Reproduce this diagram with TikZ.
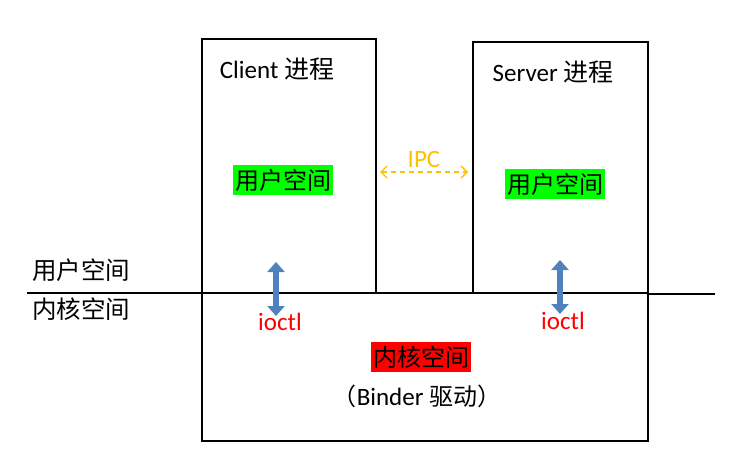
\documentclass[tikz,border=0pt]{standalone}
\usepackage{fontspec}
\setmainfont{Carlito}
\newfontfamily\cjk{Noto Sans CJK SC}
\usetikzlibrary{arrows.meta}
\definecolor{ipcorange}{RGB}{255,192,0}
\definecolor{arrowblue}{RGB}{79,129,189}
\definecolor{hlgreen}{RGB}{0,255,0}
\definecolor{hlred}{RGB}{255,0,0}
\tikzset{
  box/.style={draw=black, line width=1.3pt},
  lbl/.style={font=\fontsize{25}{30}\selectfont, inner sep=0pt},
  cjklbl/.style={font=\fontsize{24.5}{30}\cjk, inner sep=0pt},
  hl/.style={font=\fontsize{24}{30}\cjk, inner xsep=2pt, inner ysep=4pt},
  bluearrow/.style={draw=arrowblue, line width=6.5pt, {Triangle[length=10pt,width=17pt]}-{Triangle[length=10pt,width=17pt]}},
  redtxt/.style={lbl, text=hlred},
}
\begin{document}
\begin{tikzpicture}[x=1pt,y=-1pt]
\useasboundingbox (0,0) rectangle (742,461);
% boxes
\draw[box] (202,293) -- (202,39) -- (376,39) -- (376,293);
\draw[box] (473,293) -- (473,42) -- (648,42) -- (648,293);
\draw[box] (202,293) rectangle (648,441);
% separator line
\coordinate (la) at (27,293);
\coordinate (lb) at (202,293);
\coordinate (ra) at (648,294);
\coordinate (rb) at (715,294);
\draw[line width=1.3pt] (la) -- (lb);
\draw[line width=1.3pt] (ra) -- (rb);
% titles
\node[lbl] (ct) at (277,69) {Client {\cjk 进程}};
\node[lbl] (st) at (553,72) {Server {\cjk 进程}};
% green user space
\node[hl, fill=hlgreen] (cu) at (283,180) {用户空间};
\node[hl, fill=hlgreen] (su) at (555,184) {用户空间};
% IPC
\node[lbl, text=ipcorange] (ipc) at (424,159) {IPC};
\coordinate (ipcl) at (380,172);
\coordinate (ipcr) at (468,172);
\draw[ipcorange, line width=1.3pt, dash pattern=on 5pt off 4pt, {Straight Barb[length=6pt,width=12pt]}-{Straight Barb[length=6pt,width=12pt]}] (ipcl) -- (ipcr);
% side labels
\node[cjklbl] (us) at (81,270) {用户空间};
\node[cjklbl] (ks) at (81,309) {内核空间};
% blue arrows
\coordinate (a1t) at (276,262);
\coordinate (a1b) at (276,316);
\coordinate (a2t) at (560,260);
\coordinate (a2b) at (560,314);
\draw[bluearrow] (a1t) -- (a1b);
\draw[bluearrow] (a2t) -- (a2b);
% ioctl
\node[redtxt] (io1) at (280,322) {ioctl};
\node[redtxt] (io2) at (563,321) {ioctl};
% kernel
\node[hl, fill=hlred] (ku) at (421,357) {内核空间};
\node[lbl] (bd) at (417,396) {{\cjk\fontsize{24}{30}\selectfont （}Binder {\cjk\fontsize{24}{30}\selectfont 驱动）}};
\end{tikzpicture}
\end{document}
